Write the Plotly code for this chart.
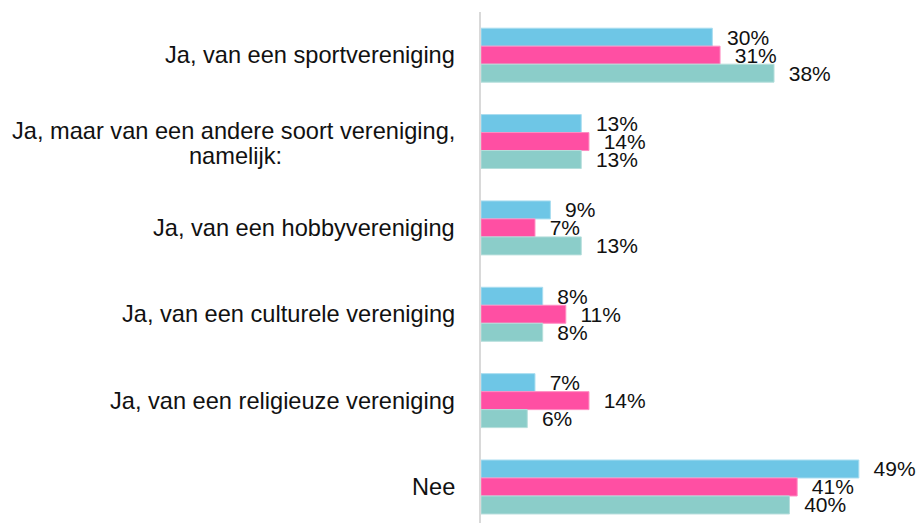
import plotly.graph_objects as go

categories = [
    "Ja, van een sportvereniging",
    "Ja, maar van een andere soort vereniging,<br>namelijk:",
    "Ja, van een hobbyvereniging",
    "Ja, van een culturele vereniging",
    "Ja, van een religieuze vereniging",
    "Nee",
]
series_names = ["Reeks 1", "Reeks 2", "Reeks 3"]
series_blue = [30, 13, 9, 8, 7, 49]
series_pink = [31, 14, 7, 11, 14, 41]
series_teal = [38, 13, 13, 8, 6, 40]

colors = ["#6EC6E6", "#FF4FA3", "#8BCDC9"]
edge = ["#A9DDF0", "#FF8CC2", "#B5DEDB"]

FONT = "Liberation Sans, Arial, sans-serif"
fig = go.Figure()
for name, vals, c, e in zip(series_names, [series_blue, series_pink, series_teal], colors, edge):
    fig.add_trace(go.Bar(
        y=categories, x=vals, orientation="h", name=name,
        marker=dict(color=c, line=dict(color=e, width=1)),
        text=["\u00a0\u00a0" + f"{v}%" for v in vals],
        textposition="outside", constraintext="none", cliponaxis=False,
        textfont=dict(family=FONT, size=21, color="#111111"),
        hoverinfo="skip",
    ))

for cat in categories:
    lines = cat.split("<br>")
    shifts = [0] if len(lines) == 1 else [11, -14]
    for line, ys in zip(lines, shifts):
        fig.add_annotation(
            x=0, xref="paper", y=cat, yref="y", text=line, showarrow=False,
            xanchor="right", yanchor="middle", align="center",
            xshift=-24, yshift=ys,
            font=dict(family=FONT, size=23.6, color="#111111"),
        )

# centre the second line of the two-line label under the first
ann = list(fig.layout.annotations)
for a in ann:
    if a.text == "namelijk:":
        w1 = 18.78 * 23.6  # approx. width of the first line
        a.xanchor = "center"
        a.xshift = -24 - w1 / 2
fig.layout.annotations = ann

fig.update_layout(
    width=919, height=523,
    margin=dict(l=481, r=0, t=12, b=0),
    barmode="group", bargap=0.375, bargroupgap=0,
    showlegend=False,
    paper_bgcolor="white", plot_bgcolor="white",
    xaxis=dict(range=[0, 56.8], visible=False, showgrid=False, zeroline=False),
    yaxis=dict(range=[5.417, -0.5], showticklabels=False, showgrid=False,
               zeroline=False, showline=True, linecolor="#D9D9D9", linewidth=2,
               ticks=""),
)
fig.write_html("out.html", config={"displayModeBar": False},
               post_script="document.body.style.margin='0';document.body.style.overflow='hidden';")
